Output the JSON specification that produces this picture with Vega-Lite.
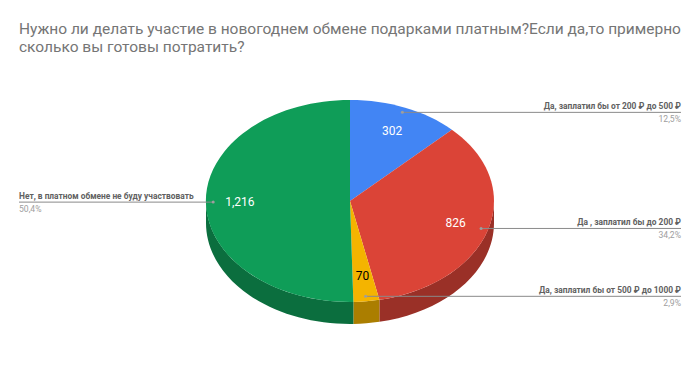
{
"$schema":"https://vega.github.io/schema/vega-lite/v6.json",
"width":700,"height":305,
"autosize":{"type":"none"},
"padding":{"left":0,"top":70,"right":0,"bottom":0},
"background":"white",
"config":{"view":{"stroke":null}},
"title":{"text":["Нужно ли делать участие в новогоднем обмене подарками платным?Если да,то примерно","сколько вы готовы потратить?"],"anchor":"start","frame":"group","dx":19,"offset":15,"font":"Roboto","fontSize":15.5,"fontWeight":"normal","color":"#757575","lineHeight":18},
"data":{"values":[
{"answer":"Да, заплатил бы от 200 ₽ до 500 ₽","value":302,"share":"12,5%","order":1},
{"answer":"Да , заплатил бы до 200 ₽","value":826,"share":"34,2%","order":2},
{"answer":"Да, заплатил бы от 500 ₽ до 1000 ₽","value":70,"share":"2,9%","order":3},
{"answer":"Нет, в платном обмене не буду участвовать","value":1216,"share":"50,4%","order":4}
]},
"transform":[
{"window":[{"op":"sum","field":"value","as":"cum"}],"sort":[{"field":"order","order":"ascending"}]},
{"joinaggregate":[{"op":"sum","field":"value","as":"total"}]},
{"calculate":"2*PI*(datum.cum-datum.value)/datum.total","as":"t0"},
{"calculate":"2*PI*datum.cum/datum.total","as":"t1"},
{"calculate":"(datum.t0+datum.t1)/2","as":"mid"},
{"calculate":"max(datum.t0,PI/2)","as":"lo"},
{"calculate":"min(datum.t1,3*PI/2)","as":"hi"},
{"calculate":"'M0 0L'+round(14400*sin(datum.t0))/100+' '+round(-10100*cos(datum.t0))/100+'A144 101 0 '+(datum.t1-datum.t0>PI?1:0)+' 1 '+round(14400*sin(datum.t1))/100+' '+round(-10100*cos(datum.t1))/100+'Z'","as":"topPath"},
{"calculate":"'M'+round(14400*sin(datum.lo))/100+' '+round(-10100*cos(datum.lo))/100+'A144 101 0 0 1 '+round(14400*sin(datum.hi))/100+' '+round(-10100*cos(datum.hi))/100+'L'+round(14400*sin(datum.hi))/100+' '+(round(-10100*cos(datum.hi))/100+22)+'A144 101 0 0 0 '+round(14400*sin(datum.lo))/100+' '+(round(-10100*cos(datum.lo))/100+22)+'Z'","as":"sidePath"},
{"calculate":"0.765*sin(datum.mid)","as":"valueX"},
{"calculate":"0.75*cos(datum.mid)","as":"valueY"},
{"calculate":"0.95*sin(datum.mid)","as":"leadX"},
{"calculate":"0.95*cos(datum.mid)","as":"leadY"},
{"calculate":"datum.mid<PI?2.2986:-2.2986","as":"endX"}
],
"layer":[
{"transform":[{"filter":"datum.lo<datum.hi"}],
 "mark":{"type":"point","filled":true,"opacity":1,"size":4,"strokeWidth":0},
 "encoding":{
 "x":{"datum":0,"type":"quantitative","scale":{"domain":[-2.4306,2.4306],"nice":false,"zero":false},"axis":null},
 "y":{"datum":0,"type":"quantitative","scale":{"domain":[-1.7228,1.297],"nice":false,"zero":false},"axis":null},
 "shape":{"field":"sidePath","type":"nominal","scale":null,"legend":null},
 "color":{"field":"answer","type":"nominal","legend":null,"scale":{"domain":["Да , заплатил бы до 200 ₽","Да, заплатил бы от 500 ₽ до 1000 ₽","Нет, в платном обмене не буду участвовать"],"range":["#9A3027","#AB7E00","#0B6E3E"]}}}},
{"mark":{"type":"point","filled":true,"opacity":1,"size":4,"strokeWidth":0},
 "encoding":{
 "x":{"datum":0,"type":"quantitative"},
 "y":{"datum":0,"type":"quantitative"},
 "shape":{"field":"topPath","type":"nominal","scale":null,"legend":null},
 "color":{"field":"answer","type":"nominal","legend":null,"scale":{"domain":["Да, заплатил бы от 200 ₽ до 500 ₽","Да , заплатил бы до 200 ₽","Да, заплатил бы от 500 ₽ до 1000 ₽","Нет, в платном обмене не буду участвовать"],"range":["#4285F4","#DB4437","#F4B400","#0F9D58"]}}}},
{"mark":{"type":"text","font":"Roboto","fontSize":12,"align":"center","baseline":"middle"},
 "encoding":{"x":{"field":"valueX","type":"quantitative"},"y":{"field":"valueY","type":"quantitative"},
 "text":{"field":"value","type":"quantitative","format":","},
 "color":{"condition":{"test":"datum.order==3","value":"#000000"},"value":"#ffffff"}}},
{"mark":{"type":"rule","color":"#8a8a8a","strokeWidth":1},
 "encoding":{"x":{"field":"leadX","type":"quantitative"},"x2":{"field":"endX"},"y":{"field":"leadY","type":"quantitative"}}},
{"mark":{"type":"point","filled":true,"opacity":1,"size":9,"color":"#9e9e9e","strokeWidth":0},
 "encoding":{"x":{"field":"leadX","type":"quantitative"},"y":{"field":"leadY","type":"quantitative"}}},
{"mark":{"type":"text","font":"Roboto","fontSize":8.4,"fontWeight":"bold","color":"#616161","baseline":"alphabetic","dy":-3,"align":{"expr":"datum.mid<PI?'right':'left'"}},
 "encoding":{"x":{"field":"endX","type":"quantitative"},"y":{"field":"leadY","type":"quantitative"},"text":{"field":"answer"}}},
{"mark":{"type":"text","font":"Roboto","fontSize":8.6,"color":"#9e9e9e","baseline":"alphabetic","dy":10,"align":{"expr":"datum.mid<PI?'right':'left'"}},
 "encoding":{"x":{"field":"endX","type":"quantitative"},"y":{"field":"leadY","type":"quantitative"},"text":{"field":"share"}}}
],
"resolve":{"scale":{"color":"independent"}}
}
